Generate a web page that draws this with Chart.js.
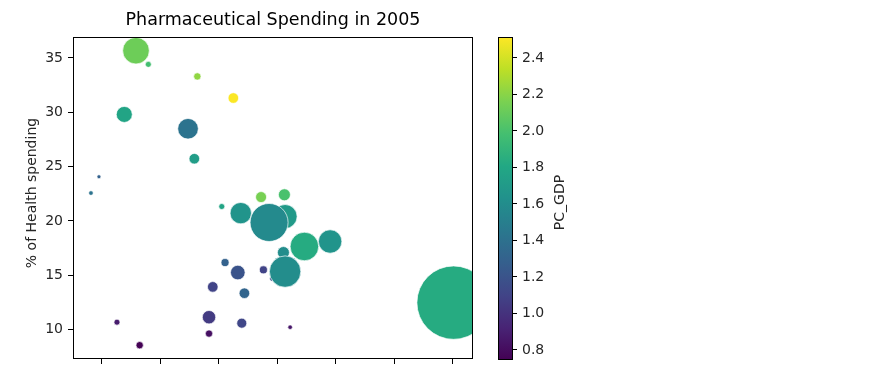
<!DOCTYPE html>
<html>
<head>
<meta charset="utf-8">
<script src="https://cdn.jsdelivr.net/npm/chart.js@4/dist/chart.umd.min.js"></script>
<style>
  html, body { margin: 0; padding: 0; background: #fff; width: 880px; height: 385px; overflow: hidden; }
  #main { position: absolute; left: 0; top: 0; }
  #cbar { position: absolute; left: 480px; top: 0; }
</style>
</head>
<body>
<canvas id="main" width="490" height="385"></canvas>
<canvas id="cbar" width="110" height="385"></canvas>
<script>
// ---- data ----
const usdCap     = [158.7, 179.8, 263.6, 325.2, 138.7, 247.7, 258.5, 95.4, 81.7, 372.6, 412.5, 305.4, 337.9, 413.7, 386.3, 446.7, 490.7, 410.8, 391.5, 413.7, 332.8, 311.0, 376.6, 290.0, 344.1, 283.6, 339.6, 283.6, 126.2, 165.0, 422.3, 701.8];
const pcHealthXp = [35.67, 34.41, 33.30, 31.31, 29.80, 28.48, 25.72, 24.06, 22.56, 22.19, 22.40, 21.32, 20.71, 20.40, 19.85, 17.64, 18.10, 17.08, 14.66, 15.33, 15.24, 16.16, 15.49, 13.92, 13.34, 11.13, 10.58, 9.62, 10.67, 8.55, 10.21, 12.47];
const pcGdp      = [2.12, 1.98, 2.22, 2.51, 1.78, 1.42, 1.72, 1.30, 1.42, 2.15, 2.00, 1.78, 1.65, 1.70, 1.58, 1.83, 1.65, 1.60, 1.15, 1.60, 1.20, 1.30, 1.10, 1.10, 1.32, 1.05, 1.12, 0.82, 0.88, 0.75, 0.85, 1.83];
const totalSpend = [26.2, 1.33, 2.0, 4.16, 9.47, 15.7, 4.16, 0.59, 0.78, 4.47, 5.33, 1.33, 16.9, 21.3, 53.4, 30.2, 20.3, 5.33, 0.92, 36.5, 7.9, 2.37, 2.37, 4.16, 4.16, 6.64, 3.7, 2.0, 1.33, 2.0, 0.78, 199];
const xTicksStep = 100;
const yTicksStep = 5;
const cTicksStep = 0.2;
const xLimits = [51, 735];
const yLimits = [7.28, 36.93];
const cLimits = [0.745, 2.515];
const titleText = 'Pharmaceutical Spending in 2005';
const yTitle = '% of Health spending';
const cTitle = 'PC_GDP';

// ---- viridis colormap ----
const VIRIDIS = ['#440154','#482475','#414487','#355f8d','#2a788e','#21918c','#22a884','#44bf70','#7ad151','#bddf26','#fde725'];
function hexToRgb(h){ return [parseInt(h.slice(1,3),16), parseInt(h.slice(3,5),16), parseInt(h.slice(5,7),16)]; }
function viridis(t){
  t = Math.max(0, Math.min(1, t));
  const p = t * (VIRIDIS.length - 1);
  const i = Math.min(Math.floor(p), VIRIDIS.length - 2);
  const f = p - i;
  const a = hexToRgb(VIRIDIS[i]), b = hexToRgb(VIRIDIS[i+1]);
  return 'rgb(' + a.map((v,k)=>Math.round(v + (b[k]-v)*f)).join(',') + ')';
}
const cMin = cLimits[0], cMax = cLimits[1];
const pointColors = pcGdp.map(v => viridis((v - cMin) / (cMax - cMin)));
const SIZE_K = 2.6;
const points = usdCap.map((x, i) => ({ x: x, y: pcHealthXp[i], r: SIZE_K * Math.sqrt(totalSpend[i]) }));

const FONT = "'DejaVu Sans', sans-serif";
const TXT = '#262626';

const framePlugin = {
  id: 'frame',
  afterDraw(chart) {
    const a = chart.chartArea, ctx = chart.ctx;
    ctx.save();
    ctx.strokeStyle = '#000';
    ctx.lineWidth = 1;
    ctx.strokeRect(Math.round(a.left) + 0.5, Math.round(a.top) + 0.5, Math.round(a.right - a.left) - 1, Math.round(a.bottom - a.top) - 1);
    ctx.restore();
  }
};
const titlePlugin = {
  id: 'ctitle',
  afterDraw(chart) {
    const a = chart.chartArea, ctx = chart.ctx;
    ctx.save();
    ctx.fillStyle = '#000';
    ctx.font = '17.5px ' + FONT;
    ctx.textAlign = 'center';
    ctx.textBaseline = 'middle';
    ctx.fillText(titleText, (a.left + a.right) / 2, 20);
    ctx.fillStyle = TXT;
    ctx.font = '14px ' + FONT;
    ctx.translate(32, (a.top + a.bottom) / 2 - 5);
    ctx.rotate(-Math.PI / 2);
    ctx.fillText(yTitle, 0, 0);
    ctx.restore();
  }
};

new Chart(document.getElementById('main'), {
  type: 'bubble',
  data: {
    datasets: [{
      data: points,
      backgroundColor: pointColors,
      borderColor: 'rgba(255,255,255,0.85)',
      borderWidth: 0.8,
      clip: 0
    }]
  },
  options: {
    responsive: false,
    animation: false,
    events: [],
    layout: { autoPadding: false, padding: { left: 0, right: 17, top: 37, bottom: 0 } },
    plugins: { legend: { display: false }, tooltip: { enabled: false }, title: { display: false } },
    scales: {
      x: {
        type: 'linear', min: xLimits[0], max: xLimits[1],
        ticks: { display: false, stepSize: xTicksStep, includeBounds: false },
        grid: { drawOnChartArea: false, drawTicks: true, tickLength: 5, color: '#000' },
        border: { display: false },
        afterFit(s) { s.height = 26; }
      },
      y: {
        type: 'linear', min: yLimits[0], max: yLimits[1],
        ticks: { stepSize: yTicksStep, includeBounds: false, color: TXT, font: { family: FONT, size: 14 }, padding: 5 },
        grid: { drawOnChartArea: false, drawTicks: true, tickLength: 5, color: '#000' },
        border: { display: false },
        afterFit(s) { s.width = 73; }
      }
    }
  },
  plugins: [framePlugin, titlePlugin]
});

// ---- colorbar ----
const cbarPlugin = {
  id: 'cbarFill',
  beforeDatasetsDraw(chart) {
    const a = chart.chartArea, ctx = chart.ctx;
    const g = ctx.createLinearGradient(0, a.bottom, 0, a.top);
    VIRIDIS.forEach((c, i) => g.addColorStop(i / (VIRIDIS.length - 1), c));
    ctx.save();
    ctx.fillStyle = g;
    ctx.fillRect(a.left, a.top, a.right - a.left, a.bottom - a.top);
    ctx.restore();
  },
  afterDraw(chart) {
    const a = chart.chartArea, ctx = chart.ctx;
    ctx.save();
    ctx.strokeStyle = '#000';
    ctx.lineWidth = 1;
    ctx.strokeRect(Math.round(a.left) + 0.5, Math.round(a.top) + 0.5, Math.round(a.right - a.left) - 1, Math.round(a.bottom - a.top) - 1);
    ctx.translate(80, (a.top + a.bottom) / 2 + 4);
    ctx.rotate(-Math.PI / 2);
    ctx.fillStyle = TXT;
    ctx.font = '14px ' + FONT;
    ctx.textAlign = 'center';
    ctx.textBaseline = 'middle';
    ctx.fillText(cTitle, 0, 0);
    ctx.restore();
  }
};

new Chart(document.getElementById('cbar'), {
  type: 'scatter',
  data: { datasets: [{ data: [] }] },
  options: {
    responsive: false,
    animation: false,
    events: [],
    layout: { autoPadding: false, padding: { left: 18, right: 0, top: 37, bottom: 25 } },
    plugins: { legend: { display: false }, tooltip: { enabled: false } },
    scales: {
      x: { display: false, min: 0, max: 1 },
      y: {
        type: 'linear', position: 'right', min: cMin, max: cMax,
        ticks: { stepSize: cTicksStep, includeBounds: false, color: TXT, font: { family: FONT, size: 14 }, padding: 5,
                 callback: v => v.toFixed(1) },
        grid: { drawOnChartArea: false, drawTicks: true, tickLength: 4, color: '#000' },
        border: { display: false },
        afterFit(s) { s.width = 77; }
      }
    }
  },
  plugins: [cbarPlugin]
});
</script>
</body>
</html>
